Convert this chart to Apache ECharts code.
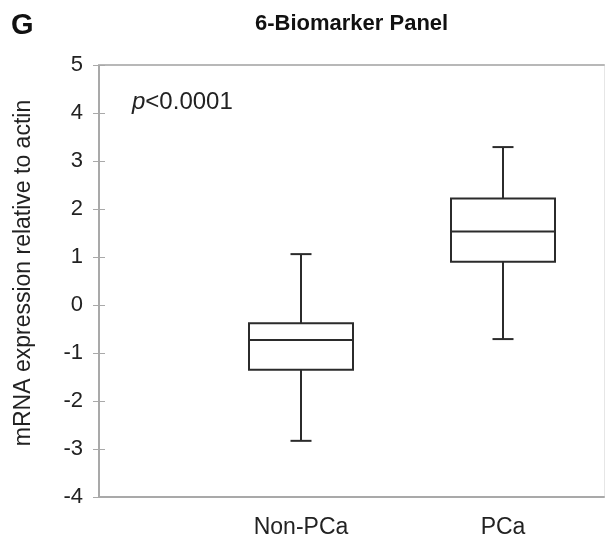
<!DOCTYPE html>
<html>
<head>
<meta charset="utf-8">
<script src="https://cdn.jsdelivr.net/npm/echarts@6/dist/echarts.min.js"></script>
<style>html,body{margin:0;padding:0;background:#fff}#c{width:608px;height:540px}</style>
</head>
<body>
<div id="c"></div>
<script>
const categories = ['Non-PCa', 'PCa'];
const positions = [1, 2];
const whiskerLow = [-2.83, -0.71];
const q1 = [-1.35, 0.90];
const median = [-0.73, 1.53];
const q3 = [-0.38, 2.22];
const whiskerHigh = [1.06, 3.29];
const yMin = -4, yMax = 5, yStep = 1;

const boxData = positions.map((p, i) => [p, whiskerLow[i], q1[i], median[i], q3[i], whiskerHigh[i]]);
const FONT = 'Liberation Sans, Arial, sans-serif';
const AXIS_GRAY = '#a9a9a9';
const INK = '#2b2b2b';

const chart = echarts.init(document.getElementById('c'));
chart.setOption({
  backgroundColor: '#fff',
  animation: false,
  title: [
    { text: 'G', left: 6, top: 6, textStyle: { fontFamily: FONT, fontSize: 29, fontWeight: 'bold', color: '#111' } },
    { text: '6-Biomarker Panel', left: 250, top: 8, textStyle: { fontFamily: FONT, fontSize: 22, fontWeight: 'bold', color: '#111' } },
    { text: '{i|p}<0.0001', left: 127, top: 85,
      textStyle: { fontFamily: FONT, fontSize: 24, fontWeight: 'normal', color: '#222',
        rich: { i: { fontFamily: FONT, fontSize: 24, fontStyle: 'italic', fontWeight: 'normal', color: '#222' } } } }
  ],
  grid: { left: 99, right: 4, top: 65, bottom: 43, containLabel: false },
  xAxis: [
    {
      type: 'value', min: 0, max: 2.5, interval: 0.5,
      axisLine: { show: true, onZero: false, lineStyle: { color: AXIS_GRAY, width: 2 } },
      axisTick: { show: false },
      splitLine: { show: false },
      axisLabel: {
        margin: 19, fontFamily: FONT, fontSize: 23, color: '#222',
        showMinLabel: true, showMaxLabel: true,
        formatter: v => { const k = positions.indexOf(Math.round(v * 100) / 100); return k >= 0 ? categories[k] : ''; }
      }
    },
    {
      type: 'value', min: 0, max: 2.5, position: 'top',
      axisLine: { show: true, onZero: false, lineStyle: { color: '#b8b8b8', width: 2 } },
      axisTick: { show: false }, axisLabel: { show: false }, splitLine: { show: false }
    }
  ],
  yAxis: [
    {
      type: 'value', min: yMin, max: yMax, interval: yStep,
      name: 'mRNA expression relative to actin',
      nameLocation: 'middle', nameGap: 64, nameRotate: 90,
      nameTextStyle: { fontFamily: FONT, fontSize: 23, color: '#222', padding: [0, 0, 0, 16] },
      axisLine: { show: true, onZero: false, lineStyle: { color: AXIS_GRAY, width: 2 } },
      axisTick: { show: true, length: 6, lineStyle: { color: AXIS_GRAY, width: 1 } },
      splitLine: { show: false },
      axisLabel: { margin: 16, fontFamily: FONT, fontSize: 22, color: '#222' }
    },
    {
      type: 'value', min: yMin, max: yMax, interval: yStep, position: 'left',
      axisLine: { show: false },
      axisTick: { show: true, inside: true, length: 6, lineStyle: { color: AXIS_GRAY, width: 1 } },
      axisLabel: { show: false }, splitLine: { show: false }
    },
    {
      type: 'value', min: yMin, max: yMax, position: 'right',
      axisLine: { show: true, onZero: false, lineStyle: { color: '#e6e6e6', width: 1 } },
      axisTick: { show: false }, axisLabel: { show: false }, splitLine: { show: false }
    }
  ],
  series: [{
    type: 'custom',
    xAxisIndex: 0, yAxisIndex: 0,
    data: boxData,
    encode: { x: 0, y: [1, 2, 3, 4, 5] },
    renderItem: function (params, api) {
      const x = api.value(0);
      const pLow = api.coord([x, api.value(1)]);
      const pQ1 = api.coord([x, api.value(2)]);
      const pMed = api.coord([x, api.value(3)]);
      const pQ3 = api.coord([x, api.value(4)]);
      const pHigh = api.coord([x, api.value(5)]);
      const cx = pMed[0];
      const hw = 52, cw = 10.5;
      const ls = { stroke: INK, lineWidth: 2, fill: null };
      return {
        type: 'group',
        children: [
          { type: 'rect', shape: { x: cx - hw, y: pQ3[1], width: hw * 2, height: pQ1[1] - pQ3[1] }, style: { stroke: INK, lineWidth: 2, fill: '#fff' } },
          { type: 'line', shape: { x1: cx - hw, y1: pMed[1], x2: cx + hw, y2: pMed[1] }, style: ls },
          { type: 'line', shape: { x1: cx, y1: pQ3[1], x2: cx, y2: pHigh[1] }, style: ls },
          { type: 'line', shape: { x1: cx, y1: pQ1[1], x2: cx, y2: pLow[1] }, style: ls },
          { type: 'line', shape: { x1: cx - cw, y1: pHigh[1], x2: cx + cw, y2: pHigh[1] }, style: ls },
          { type: 'line', shape: { x1: cx - cw, y1: pLow[1], x2: cx + cw, y2: pLow[1] }, style: ls }
        ]
      };
    }
  }]
});
</script>
</body>
</html>
